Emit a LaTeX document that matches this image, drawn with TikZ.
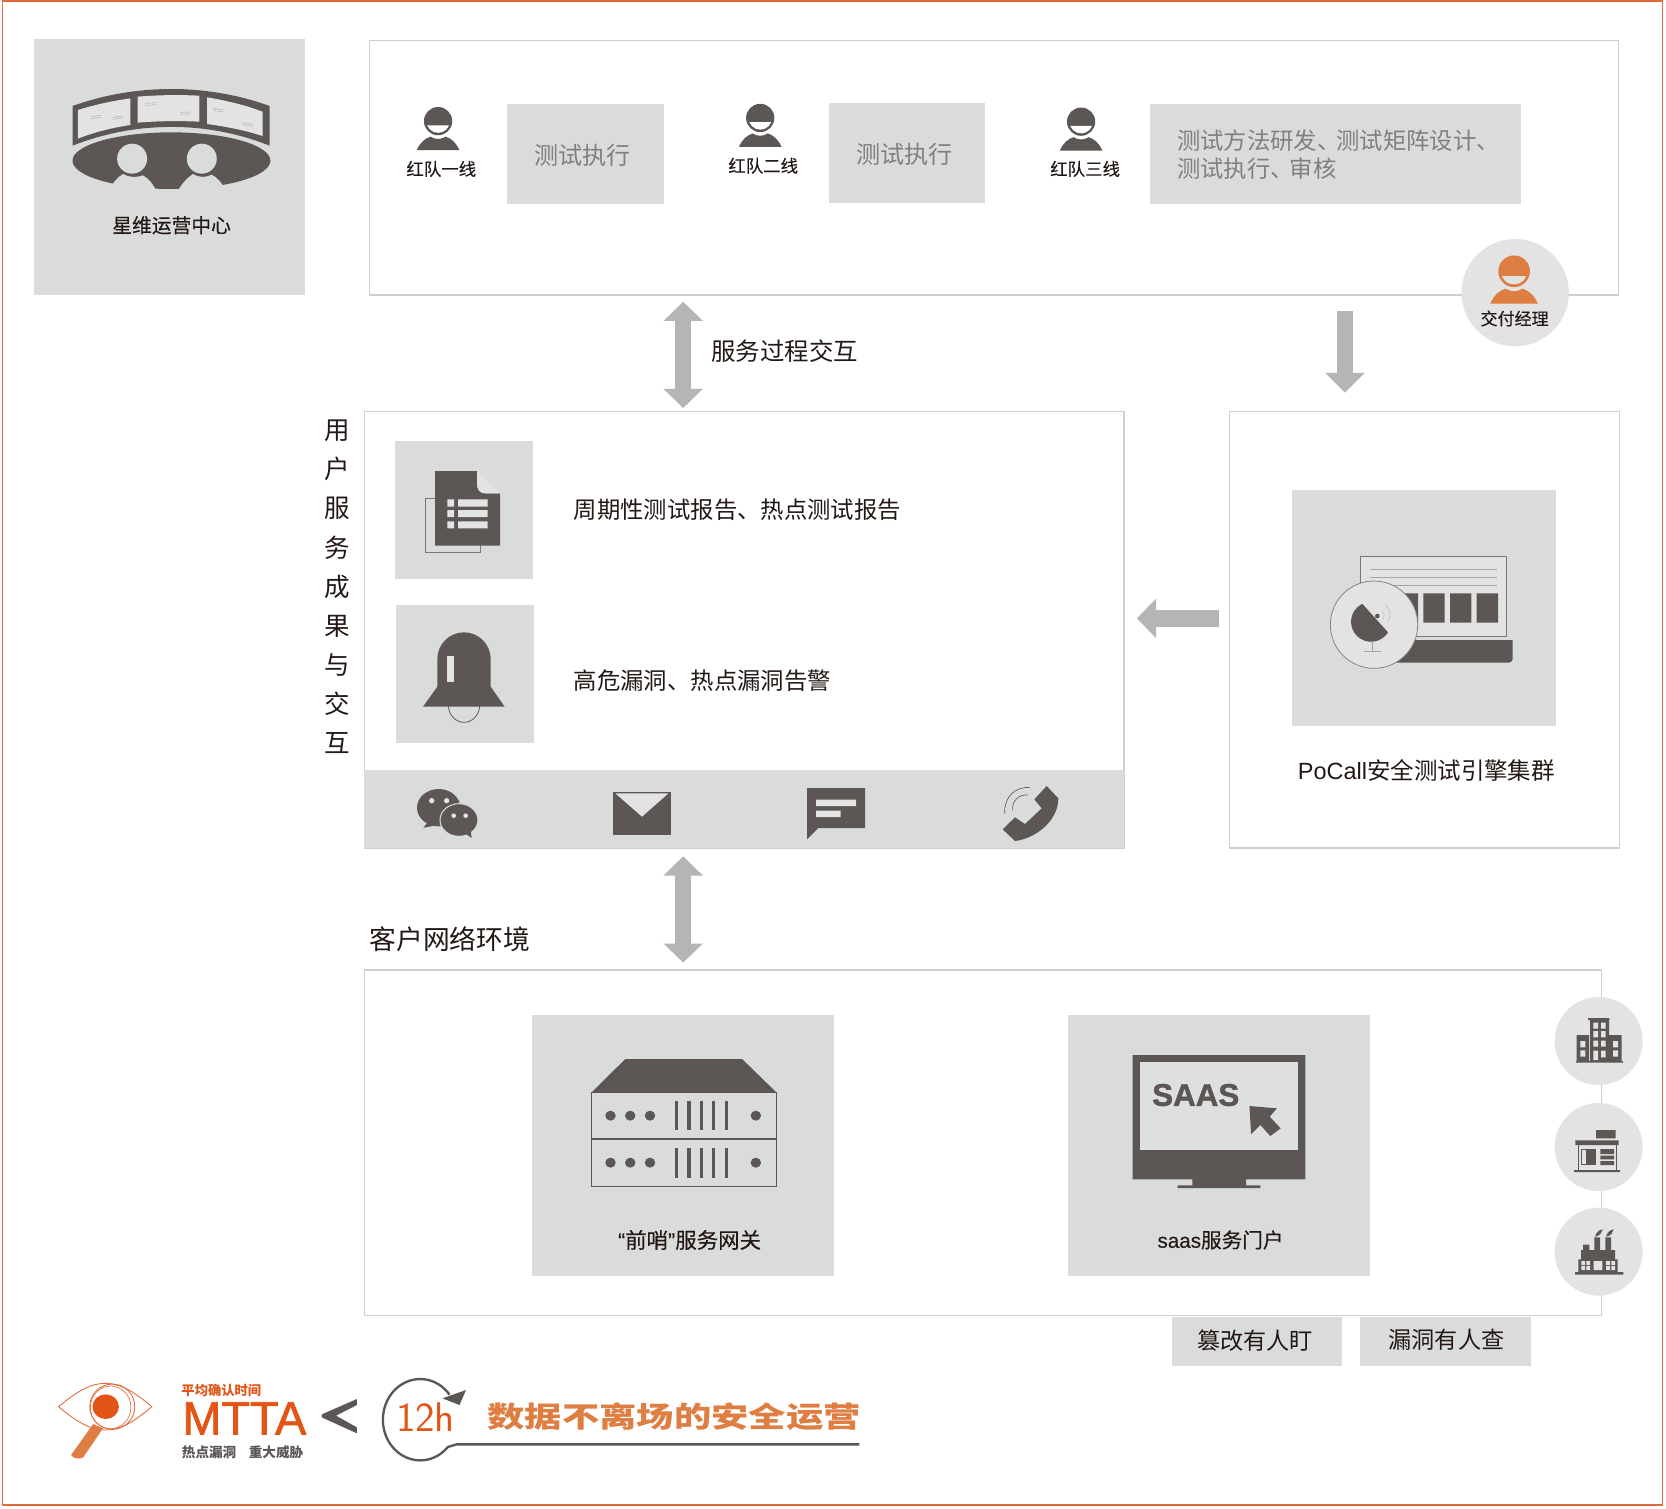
\documentclass[tikz,border=0pt]{standalone}
\usepackage{fontspec}
\setmainfont{Noto Sans CJK SC}
\newfontfamily\medf[FakeBold=0.3]{Noto Sans CJK SC}
\newfontfamily\latinf{Liberation Sans}
\newfontfamily\latinm[FakeBold=0.3]{Liberation Sans}
\newfontfamily\latinh[FakeBold=1.5]{Liberation Sans}
\newfontfamily\latinx[BoldFeatures={FakeBold=1.5}]{Liberation Sans}
\newfontfamily\thinf{Latin Modern Sans}
\usetikzlibrary{arrows.meta}
\definecolor{boxg}{HTML}{DADCDC}
\definecolor{dark}{HTML}{5C5655}
\definecolor{lite}{HTML}{E3E3E3}
\definecolor{arrowg}{HTML}{B5B5B5}
\definecolor{edge}{HTML}{CFCFCF}
\definecolor{frameo}{HTML}{E26A3C}
\definecolor{oran}{HTML}{DF7E43}
\definecolor{deep}{HTML}{E25516}
\definecolor{ink}{HTML}{231815}
\newcommand{\fsz}[1]{\fontsize{#1}{#1}\selectfont}
\newcommand{\dun}{、\kern-4pt}
\newcommand{\personicon}[5]{%
\begin{scope}[shift={(#1,#2)},scale=#3]
\fill[#4] (0,0) circle[radius=13.3];
\fill[#5] (10.3,4) arc[start angle=21.2,end angle=158.8,radius=11] -- cycle;
\fill[#4] (-20,27.3) .. controls (-17,20) and (-12,16) .. (-7,14.6) .. controls (-3,17.5) and (3,17.5) .. (7,14.6) .. controls (12,16) and (17,20) .. (20,27.3) -- cycle;
\end{scope}}
\tikzset{
 x=1pt,y=-1pt,
 panel/.style={draw=edge,line width=1.3pt,fill=white},
 gbox/.style={fill=boxg,draw=none},
 blockarrow/.style={draw=arrowg,line width=15.5pt},
 txt/.style={inner sep=0pt,text=ink},
 gtxt/.style={inner sep=0pt,text=black!50},
 z1/.style={x=.33613pt,y=-.31373pt},
 z2/.style={shift={(1082.35,188.24)},x=.31373pt,y=-.31373pt},
 z3/.style={shift={(320,395.29)},x=.31373pt,y=-.31373pt},
 z4/.style={shift={(658.82,696.47)},x=.31373pt,y=-.31373pt},
 z5/.style={shift={(489.41,941.18)},x=.51619pt,y=-.31373pt},
 z6/.style={shift={(1364.71,922.35)},x=.31373pt,y=-.31373pt},
 z7/.style={shift={(28.24,1270.59)},x=.51619pt,y=-.31373pt},
}
\begin{document}
\begin{tikzpicture}
\useasboundingbox (0,0) rectangle (1568,1419.3);
\fill[white] (0,0) rectangle (1568,1419.3);
\draw[frameo,line width=1.4pt] (2.5,1) rectangle (1564.5,1416.5);

% operations centre
\fill[gbox] (32,37) rectangle (287,278);
\begin{scope}[z1]
\fill[dark] (203,318) .. controls (380,250) and (580,250) .. (755,318) -- (755,437) .. controls (580,362) and (380,362) .. (203,437) -- cycle;
\fill[lite] (218,330) .. controls (265,314) and (315,303) .. (365,295) -- (365,375) .. controls (315,383) and (265,396) .. (218,416) -- cycle;
\fill[lite] (385,290) .. controls (440,285) and (500,284) .. (558,287) -- (558,365) .. controls (500,362) and (440,363) .. (385,368) -- cycle;
\fill[lite] (580,292) .. controls (635,302) and (690,316) .. (735,335) -- (735,408) .. controls (690,392) and (635,380) .. (580,372) -- cycle;
\draw[black!35,line width=.4pt] (255,350)--(283,345) (255,356)--(283,351) (317,352)--(345,347) (317,358)--(345,353)
 (407,310)--(437,308) (407,316)--(437,314) (505,337)--(533,336) (505,343)--(533,342)
 (597,325)--(626,330) (597,331)--(626,336) (679,368)--(708,373) (679,374)--(708,379);
\begin{scope}
\clip (190,380) rectangle (770,566);
\fill[dark] (480,482) ellipse[x radius=277,y radius=85];
\end{scope}
\fill[boxg] (370,476) ellipse[x radius=42,y radius=45];
\fill[boxg] (565,476) ellipse[x radius=42,y radius=45];
\fill[boxg] (305,572) .. controls (318,545) and (330,530) .. (345,522) .. controls (360,533) and (385,533) .. (400,526) .. controls (415,535) and (428,550) .. (437,572) -- cycle;
\fill[boxg] (498,572) .. controls (510,550) and (525,533) .. (540,522) .. controls (555,533) and (580,533) .. (592,524) .. controls (605,530) and (620,545) .. (632,572) -- cycle;
\end{scope}
\node[txt] (ops) at (161.5,212) {\fsz{18.6}\medf 星维运营中心};

% top panel
\draw[panel] (347.5,38) rectangle (1523.5,277.5);
\personicon{412.3}{114}{1}{dark}{white}
\personicon{715.5}{111}{1}{dark}{white}
\personicon{1017.5}{114.5}{1}{dark}{white}
\node[txt] (l1) at (415.3,159) {\fsz{16.4}\medf 红队一线};
\node[txt] (l2) at (718.3,156) {\fsz{16.4}\medf 红队二线};
\node[txt] (l3) at (1021.3,159) {\fsz{16.4}\medf 红队三线};
\fill[gbox] (477,98) rectangle (625,192);
\fill[gbox] (780,97) rectangle (927,191);
\fill[gbox] (1082,98) rectangle (1431.5,192);
\node[gtxt] (t1) at (548.4,146) {\fsz{22.7}测试执行};
\node[gtxt] (t2) at (851.4,145) {\fsz{22.7}测试执行};
\node[gtxt,anchor=west] (t3a) at (1107.6,132.4) {\fsz{22}测试方法研发\dun 测试矩阵设计、};
\node[gtxt,anchor=west] (t3b) at (1107.6,158.4) {\fsz{22}测试执行\dun 审核};
\fill[lite] (1426,275.5) circle[radius=50.5];
\personicon{1425}{255.3}{1.12}{oran}{lite}
\node[txt] (dm) at (1425.5,299.8) {\fsz{16}\medf 交付经理};

% arrows
\coordinate (a1t) at (643,284);\coordinate (a1b) at (643,384);
\draw[blockarrow,{Triangle[length=18pt,width=36pt]}-{Triangle[length=18pt,width=36pt]}] (a1t) -- (a1b);
\node[txt,anchor=west] (svc) at (669.3,330) {\fsz{23}服务过程交互};
\coordinate (a2t) at (1265.8,292.7);\coordinate (a2b) at (1265.8,369.6);
\draw[blockarrow,-{Triangle[length=18.6pt,width=36pt]}] (a2t) -- (a2b);
\coordinate (a3r) at (1147,582);\coordinate (a3l) at (1070,582);
\draw[blockarrow,-{Triangle[length=18pt,width=36pt]}] (a3r) -- (a3l);
\coordinate (a4t) at (643,806);\coordinate (a4b) at (643,906);
\draw[blockarrow,{Triangle[length=18pt,width=36pt]}-{Triangle[length=18pt,width=36pt]}] (a4t) -- (a4b);

% middle panel
\draw[panel] (343,387.5) rectangle (1058,798.5);
\fill[gbox] (343,724.7) rectangle (1058,798.5);
\fill[gbox] (372,415) rectangle (502,545);
\fill[gbox] (372.5,569) rectangle (503,699);
\foreach \c/\yy/\nm in {用/405.4/v1,户/441.4/v2,服/478.4/v3,务/515.4/v4,成/552.4/v5,果/589.4/v6,与/625.4/v7,交/662.4/v8,互/699.4/v9}
  \node[txt] (\nm) at (317.4,\yy) {\fsz{24}\c};
\node[txt,anchor=west] (r1) at (539.8,479.3) {\fsz{22}周期性测试报告、热点测试报告};
\node[txt,anchor=west] (r2) at (539.8,640.3) {\fsz{22}高危漏洞、热点漏洞告警};
\begin{scope}[z3]
% document
\draw[dark!80,line width=.6pt] (257,236) rectangle (420,398);
\fill[dark] (285,153) -- (411,153) -- (411,190) .. controls (411,210) and (420,220) .. (435,220) -- (480,220) -- (480,377) -- (285,377) -- cycle;
\fill[lite] (411,153) -- (480,220) -- (435,220) .. controls (420,220) and (411,210) .. (411,190) -- cycle;
\fill[lite] (322,238) rectangle (342,260) (322,270) rectangle (342,291) (322,304) rectangle (342,325);
\fill[lite] (354,238) rectangle (443,260) (354,270) rectangle (443,291) (354,304) rectangle (443,325);
% bell
\draw[dark,line width=.7pt] (325,855) arc[start angle=180,end angle=0,x radius=47,y radius=52];
\fill[dark] (292,800) -- (292,717) arc[start angle=180,end angle=270,radius=80] arc[start angle=270,end angle=360,radius=80] -- (452,800) -- (494,860) -- (249,860) -- cycle;
\fill[lite] (322,707) rectangle (341,785);
% wechat
\fill[dark] (296,1163) ellipse[x radius=65,y radius=56];
\fill[dark] (262,1208) -- (250,1223) -- (290,1216) -- cycle;
\fill[lite] (275,1142) circle[radius=8] (320,1142) circle[radius=8];
\fill[dark,draw=boxg,line width=1pt] (357,1200) ellipse[x radius=57,y radius=49];
\fill[dark] (375,1240) -- (395,1254) -- (392,1232) -- cycle;
\fill[lite] (341,1187) circle[radius=7] (377,1187) circle[radius=7];
% mail
\fill[dark] (818,1116) rectangle (993,1245);
\fill[lite] (826,1120) -- (985,1120) -- (906,1190) -- cycle;
\end{scope}
\begin{scope}[z4]
% message
\fill[dark] (321,144) -- (495,144) -- (495,264) -- (355,264) -- (321,298) -- cycle;
\fill[lite] (348,179) rectangle (468,198) (348,212) rectangle (422,231);
% phone
\fill[dark] (1040,138) -- (1003,178) -- (1025,205) -- (975,252) -- (945,232) -- (908,268) -- (945,303) .. controls (1010,295) and (1075,240) .. (1075,175) -- cycle;
\draw[dark,line width=.6pt] (990,142) .. controls (945,140) and (912,170) .. (914,220);
\draw[dark,line width=.6pt] (983,165) .. controls (955,162) and (935,185) .. (938,210);
\end{scope}

% engine panel
\draw[panel] (1157,387.5) rectangle (1524,798);
\fill[gbox] (1216,461) rectangle (1464.6,683);
\begin{scope}[z2]
\fill[dark] (700,1320) -- (1088,1320) -- (1088,1376) arc[start angle=0,end angle=90,radius=12] -- (700,1388) -- cycle;
\fill[lite] (632,1070) rectangle (1070,1308);
\draw[dark!80,line width=.8pt] (632,1070) rectangle (1070,1308);
\draw[black!35,line width=.5pt] (660,1107) -- (1040,1107) (660,1132) -- (1040,1132) (660,1157) -- (1040,1157);
\fill[dark] (740,1180) rectangle (804,1268) (820,1180) rectangle (884,1268) (900,1180) rectangle (964,1268) (980,1180) rectangle (1044,1268);
\fill[lite,draw=black!50,line width=.7pt] (672,1274) circle[radius=131];
\fill[dark] (714,1297) arc[start angle=32,end angle=244,radius=60] -- cycle;
\fill[dark] (682,1248) circle[radius=7];
\draw[black!30,line width=.4pt] (697,1232) arc[start angle=-45,end angle=30,radius=20];
\draw[black!30,line width=.4pt] (707,1216) arc[start angle=-50,end angle=38,radius=36];
\draw[black!35,line width=.5pt] (667,1325) -- (667,1355) (642,1355) -- (692,1355);
\end{scope}
\node[txt] (eng) at (1342.5,725) {\fsz{22.1}{\latinf PoCall}安全测试引擎集群};

% client panel
\node[txt,anchor=west] (net) at (347.6,884.3) {\fsz{25.2}客户网络环境};
\draw[panel] (343,913) rectangle (1507,1238);
\fill[gbox] (500.8,955.3) rectangle (785,1201);
\fill[gbox] (1005,955.3) rectangle (1289.4,1201);
\begin{scope}[z5]
\fill[dark] (192,177) -- (405,177) -- (468,278) -- (130,278) -- cycle;
\draw[dark,line width=.8pt] (130,278) rectangle (468,558);
\draw[dark,line width=1.2pt] (130,417) -- (468,417);
\foreach \yy in {347,488}{
 \foreach \xx in {165,201,237,430}
  \fill[dark] (\xx,\yy) ellipse[x radius=9.5,y radius=15];
}
\foreach \xx in {285,308,331,353,376}{
 \fill[dark] (\xx-3,303) rectangle (\xx+3,391);
 \fill[dark] (\xx-3,445) rectangle (\xx+3,533);
}
% monitor
\fill[dark] (1117,165) rectangle (1432,538) (1226,538) rectangle (1324,556) (1199,556) rectangle (1350,564);
\fill[boxg!60!lite] (1130,185) rectangle (1418,451);
\fill[dark] (1330,318) -- (1380,325) -- (1367,350) -- (1387,385) -- (1368,408) -- (1350,375) -- (1333,403) -- cycle;
\end{scope}
\node[inner sep=0pt,text=dark] (saas) at (1125.4,1030.6) {\fsz{29.5}\latinx\bfseries SAAS};
\node[txt] (gw) at (649,1167) {\fsz{20.2}\medf{\latinm “}前哨{\latinm ”}服务网关};
\node[txt] (portal) at (1148.7,1167) {\fsz{19.4}\medf{\latinm saas}服务门户};

% customers
\fill[lite] (1504.6,979.8) circle[radius=41.4];
\fill[lite] (1504.6,1079.5) circle[radius=41.4];
\fill[lite] (1504.6,1178) circle[radius=41.4];
\begin{scope}[z6]
% office
\fill[dark] (378,243) rectangle (519,248) (420,118) rectangle (477,243) (414,114) rectangle (478,120) (380,165) rectangle (417,243) (478,165) rectangle (515,243);
\fill[lite] (430,128) rectangle (444,146) (453,128) rectangle (467,146) (430,153) rectangle (444,172) (453,153) rectangle (467,172) (430,182) rectangle (444,200) (453,182) rectangle (467,200) (430,212) rectangle (444,240) (453,212) rectangle (467,232)
 (391,183) rectangle (406,202) (391,211) rectangle (406,230) (489,183) rectangle (504,202) (489,211) rectangle (504,230);
% shop
\fill[dark] (438,450) rectangle (497,475) (376,481) rectangle (506,495) (372,570) rectangle (510,576);
\draw[dark,line width=.5pt] (384,495) -- (384,570) (498,495) -- (498,570);
\fill[dark] (394,507) rectangle (438,555);
\fill[lite] (397,510) rectangle (407,552);
\fill[dark] (451,507) rectangle (492,522) (451,527) rectangle (492,538) (451,543) rectangle (492,555);
% factory
\fill[dark] (375,876) rectangle (520,884) (385,838) rectangle (503,876) (393,810) rectangle (495,838) (433,772) rectangle (450,810) (466,772) rectangle (483,810) (399,794) rectangle (418,810);
\fill[dark] (435,770) .. controls (438,758) and (446,750) .. (458,748) .. controls (456,758) and (450,767) .. cycle;
\fill[dark] (468,770) .. controls (471,758) and (479,750) .. (491,748) .. controls (489,758) and (483,767) .. cycle;
\fill[lite] (394,843) rectangle (405,855) (409,843) rectangle (420,855) (394,858) rectangle (405,870) (409,858) rectangle (420,870) (431,843) rectangle (457,870) (468,843) rectangle (480,855) (484,843) rectangle (495,855) (468,858) rectangle (480,870) (484,858) rectangle (495,870);
\end{scope}

\fill[boxg] (1103,1239.5) rectangle (1263.5,1285.5);
\fill[boxg] (1280,1239.5) rectangle (1440.5,1285.5);
\node[txt] (tag1) at (1181.4,1261.3) {\fsz{21.8}篡改有人盯};
\node[txt] (tag2) at (1361.4,1261.3) {\fsz{21.8}漏洞有人查};

% bottom banner
\begin{scope}[z7]
\fill[oran] (115,222) -- (133,235) -- (97,322) .. controls (92,328) and (78,326) .. (75,315) -- cycle;
\draw[frameo,line width=.8pt] (52,170) .. controls (85,125) and (110,100) .. (137,100) .. controls (165,100) and (190,125) .. (222,170) .. controls (190,215) and (165,240) .. (137,240) .. controls (110,240) and (85,215) .. (52,170) -- cycle;
\draw[frameo,line width=.8pt] (150,170) ellipse[x radius=41,y radius=68];
\draw[frameo,line width=.6pt] (147,172) ellipse[x radius=37,y radius=64];
\fill[deep] (138,170) ellipse[x radius=24,y radius=37];
\fill[dark] (596,147) -- (532,193) -- (532,202) -- (596,250) -- (596,232) -- (558,197) -- (596,165) -- cycle;
\draw[dark,line width=2.2pt] (765,134) arc[start angle=-38,end angle=-318,x radius=68,y radius=122] -- (778,283) -- (1512,283);
\fill[dark] (795,120) -- (752,145) -- (783,165) -- cycle;
\end{scope}
\node[inner sep=0pt,text=deep] (mttat) at (208.3,1308.5) {\fsz{12.5}\bfseries 平均确认时间};
\node[inner sep=0pt,text=deep] (mtta) at (230,1334.9) {\fsz{44}\latinh MTTA};
\node[inner sep=0pt,text=dark,anchor=west] (hot) at (171,1367) {\fsz{12.8}\bfseries 热点漏洞};
\node[inner sep=0pt,text=dark,anchor=west] (maj) at (234,1367) {\fsz{12.8}\bfseries 重大威胁};
\node[inner sep=0pt,text=deep] (h12) at (400.5,1333.3) {\fsz{39}\thinf 12h};
\node[inner sep=0pt,text=oran,xscale=1.3] (slogan) at (634.5,1333) {\fsz{27}\bfseries 数据不离场的安全运营};
\end{tikzpicture}
\end{document}
